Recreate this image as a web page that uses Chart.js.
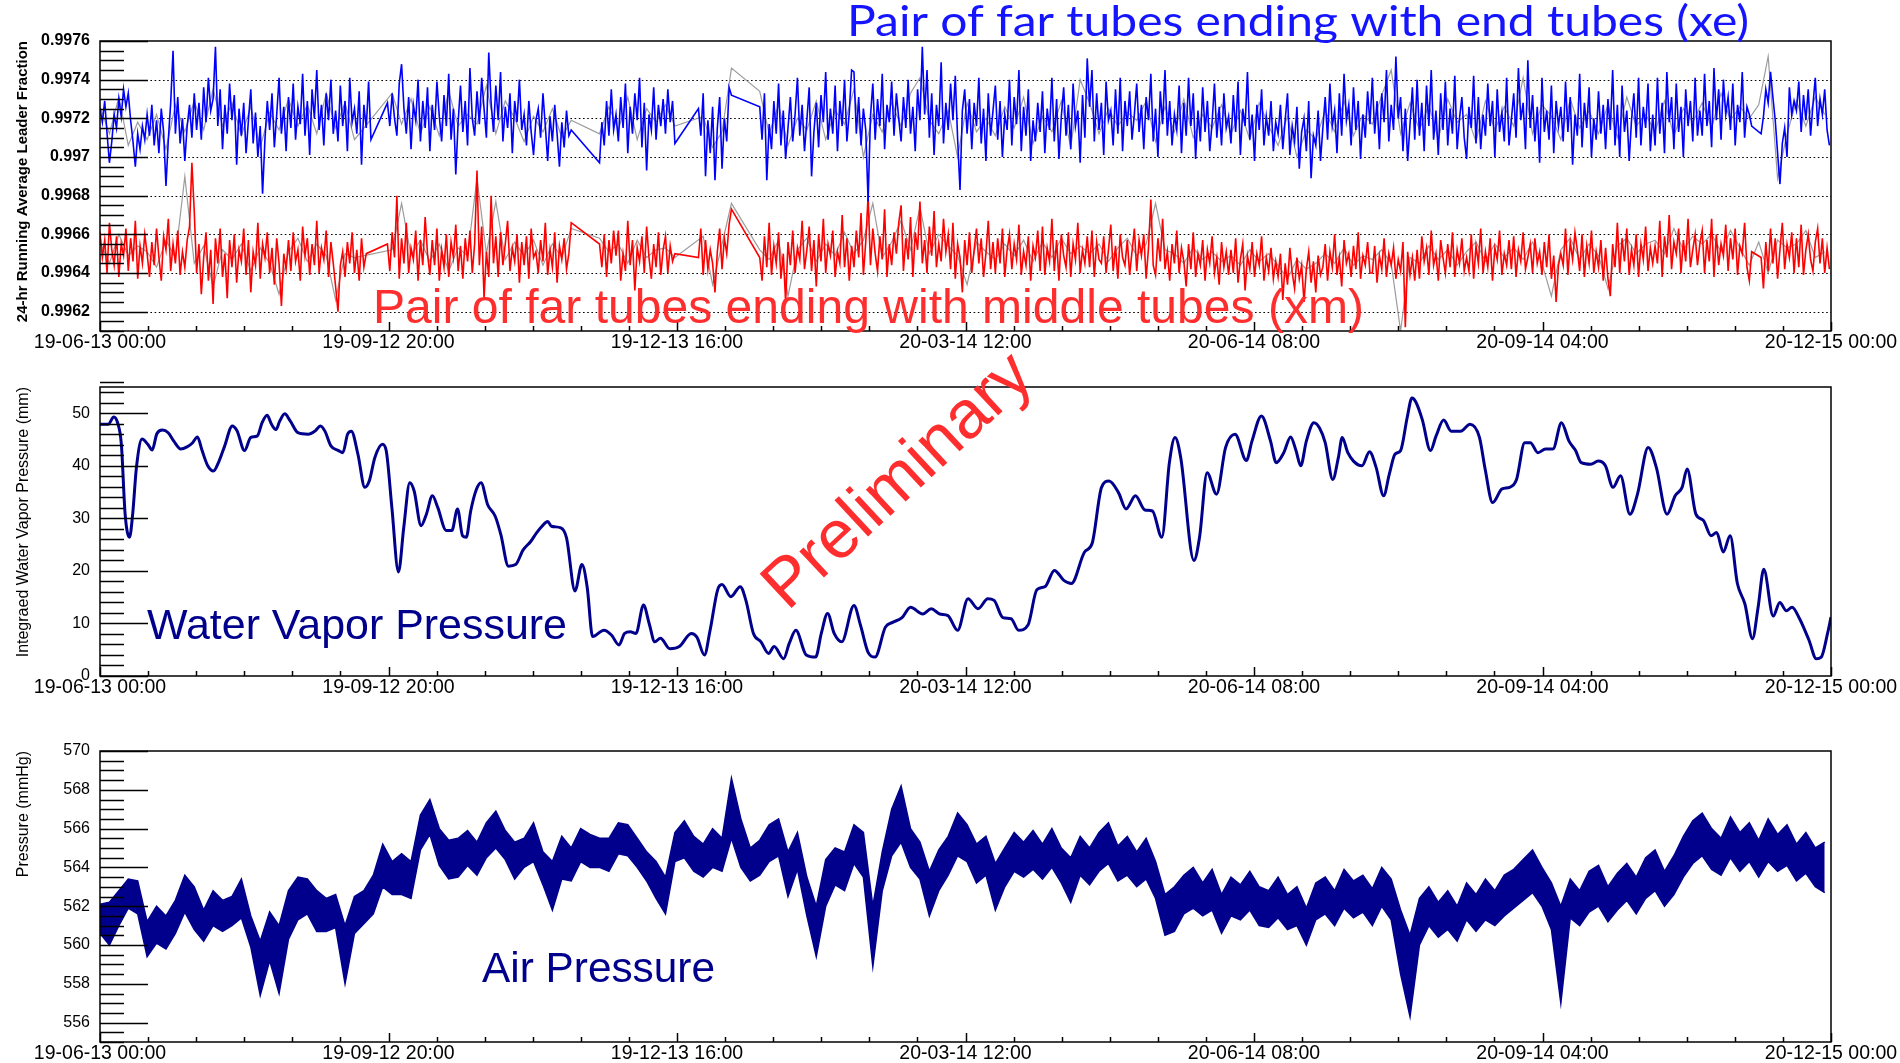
<!DOCTYPE html>
<html>
<head>
<meta charset="utf-8">
<script src="https://cdn.jsdelivr.net/npm/chart.js@4.4.1/dist/chart.umd.min.js"></script>
<style>
  html, body { margin: 0; padding: 0; background: #fff; overflow: hidden; }
  #wrap { position: relative; width: 1900px; height: 1063px; background: #fff; }
  #wrap canvas { position: absolute; left: 0; top: 0; }
</style>
</head>
<body>
<div id="wrap">
  <canvas id="leaderChart" width="1900" height="1063"></canvas>
  <canvas id="vaporChart" width="1900" height="1063"></canvas>
  <canvas id="airChart" width="1900" height="1063"></canvas>
</div>
<script>
// ---- time axis (days since 19-06-13 00:00) ----
const timeTickDays = [0, 91.8333, 183.6667, 275.5, 367.3333, 459.1667, 551];
const timeTickLabels = ['19-06-13 00:00', '19-09-12 20:00', '19-12-13 16:00', '20-03-14 12:00',
                        '20-06-14 08:00', '20-09-14 04:00', '20-12-15 00:00'];

// ---- 24-hr running average leader fraction, one sample every 0.75 days (null = no data) ----
const LEADER_STEP = 0.75;
const xeFraction = [
.99725,.99718,.99729,.99712,.99697,.99708,.99722,.99715,.99730,.99721,.99735,.99726,.99733,.99719,.99708,.99695,.99712,.99704,.99716,.99709,
.99722,.99711,.99727,.99706,.99719,.99702,.99725,.99713,.99685,.99709,.99728,.99755,.99712,.99731,.99707,.99720,.99698,.99716,.99727,.99710,
.99733,.99714,.99728,.99709,.99736,.99718,.99741,.99724,.99730,.99757,.99716,.99735,.99704,.99727,.99712,.99738,.99719,.99732,.99696,.99725,
.99711,.99728,.99702,.99719,.99735,.99707,.99723,.99700,.99716,.99681,.99709,.99729,.99714,.99733,.99705,.99722,.99741,.99712,.99726,.99703,
.99731,.99715,.99738,.99709,.99726,.99717,.99743,.99711,.99729,.99701,.99735,.99720,.99745,.99714,.99727,.99706,.99733,.99719,.99740,.99712,
.99724,.99708,.99737,.99716,.99729,.99703,.99741,.99718,.99725,.99712,.99734,.99696,.99727,.99715,.99739,.99709,null,null,null,null,
null,null,.99728,.99716,.99733,.99720,.99711,.99738,.99748,.99725,.99712,.99731,.99704,.99727,.99719,.99740,.99708,.99729,.99715,.99736,
.99703,.99727,.99714,.99739,.99721,.99708,.99732,.99716,.99743,.99709,.99725,.99691,.99718,.99737,.99713,.99729,.99706,.99746,.99720,.99711,
.99734,.99717,.99741,.99725,.99710,.99754,.99728,.99713,.99737,.99719,.99744,.99708,.99726,.99715,.99733,.99702,.99729,.99718,.99740,.99714,
.99722,.99706,.99729,.99713,.99701,.99719,.99725,.99710,.99733,.99716,.99698,.99721,.99708,.99727,.99712,.99695,.99718,.99705,.99724,.99711,
.99714,null,null,null,null,null,null,null,null,null,null,null,.99697,.99718,.99706,.99729,.99711,.99735,.99714,.99722,
.99708,.99731,.99715,.99738,.99702,.99726,.99712,.99733,.99719,.99741,.99705,.99728,.99693,.99722,.99714,.99736,.99709,.99727,.99716,.99730,
.99712,.99735,.99718,.99729,.99707,null,null,null,null,null,null,null,null,null,.99725,.99711,.99733,.99690,.99719,.99702,
.99726,.99688,.99715,.99731,.99694,.99720,.99708,.99736,.99732,null,null,null,null,null,null,null,null,null,null,null,
.99726,.99709,.99733,.99688,.99717,.99704,.99729,.99712,.99738,.99706,.99724,.99699,.99715,.99731,.99708,.99722,.99741,.99711,.99727,.99703,
.99719,.99736,.99690,.99713,.99728,.99705,.99732,.99718,.99744,.99709,.99725,.99712,.99737,.99703,.99729,.99716,.99740,.99708,.99723,.99745,
.99744,.99712,.99731,.99706,.99725,.99714,.99677,.99721,.99738,.99709,.99730,.99716,.99743,.99704,.99727,.99718,.99739,.99711,.99733,.99720,
.99708,.99731,.99715,.99740,.99712,.99726,.99703,.99735,.99719,.99757,.99722,.99745,.99710,.99733,.99701,.99727,.99716,.99749,.99707,.99728,
.99714,.99738,.99719,.99742,.99709,.99683,.99724,.99735,.99712,.99730,.99704,.99728,.99716,.99741,.99707,.99725,.99698,.99733,.99711,.99724,
.99737,.99709,.99729,.99700,.99722,.99714,.99740,.99706,.99731,.99717,.99745,.99703,.99726,.99711,.99735,.99698,.99719,.99708,.99728,.99713,
.99734,.99702,.99725,.99714,.99741,.99708,.99730,.99699,.99721,.99736,.99711,.99727,.99704,.99738,.99716,.99724,.99697,.99732,.99710,.99751,
.99726,.99745,.99708,.99733,.99714,.99728,.99701,.99739,.99719,.99724,.99706,.99735,.99712,.99741,.99703,.99729,.99716,.99734,.99709,.99722,
.99738,.99713,.99727,.99704,.99731,.99719,.99743,.99708,.99725,.99700,.99734,.99717,.99745,.99711,.99729,.99706,.99722,.99714,.99737,.99702,
.99728,.99711,.99741,.99716,.99733,.99699,.99724,.99708,.99736,.99713,.99729,.99703,.99718,.99738,.99710,.99726,.99706,.99733,.99715,.99721,
.99707,.99732,.99713,.99739,.99701,.99725,.99716,.99744,.99709,.99722,.99698,.99727,.99714,.99735,.99706,.99721,.99711,.99729,.99703,.99718,
.99712,.99727,.99704,.99719,.99733,.99701,.99716,.99708,.99726,.99694,.99713,.99720,.99703,.99729,.99689,.99711,.99706,.99724,.99698,.99715,
.99731,.99709,.99738,.99716,.99724,.99702,.99733,.99711,.99743,.99719,.99727,.99706,.99736,.99714,.99729,.99699,.99722,.99710,.99734,.99717,
.99741,.99712,.99729,.99704,.99733,.99718,.99745,.99708,.99727,.99714,.99752,.99720,.99731,.99703,.99725,.99698,.99717,.99736,.99709,.99740,
.99711,.99728,.99703,.99737,.99716,.99745,.99709,.99724,.99701,.99733,.99714,.99739,.99706,.99725,.99712,.99742,.99704,.99720,.99731,.99710,
.99699,.99726,.99715,.99742,.99707,.99731,.99704,.99722,.99711,.99738,.99716,.99729,.99700,.99735,.99713,.99723,.99708,.99741,.99706,.99719,
.99733,.99710,.99746,.99719,.99728,.99704,.99750,.99715,.99732,.99708,.99726,.99697,.99741,.99713,.99724,.99709,.99737,.99702,.99729,.99716,
.99726,.99708,.99739,.99713,.99731,.99696,.99722,.99711,.99743,.99705,.99728,.99715,.99736,.99700,.99720,.99709,.99734,.99712,.99727,.99704,
.99730,.99714,.99745,.99706,.99727,.99700,.99737,.99713,.99724,.99698,.99719,.99733,.99710,.99741,.99706,.99726,.99715,.99738,.99703,.99722,
.99706,.99741,.99712,.99728,.99702,.99744,.99718,.99731,.99704,.99738,.99713,.99726,.99700,.99735,.99716,.99729,.99708,.99741,.99711,.99724,
.99711,.99743,.99716,.99729,.99705,.99746,.99719,.99735,.99709,.99740,.99722,.99731,.99714,.99738,.99706,.99727,.99718,.99744,.99710,.99726,
.99722,.99716,null,null,null,.99712,.99721,.99735,.99728,.99744,.99731,.99719,.99702,.99686,.99707,.99715,.99700,.99736,.99722,.99729,
.99724,.99739,.99713,.99732,.99719,.99735,.99711,.99727,.99741,.99716,.99730,.99722,.99735,.99714,.99706
];
const xmFraction = [
.99661,.99648,.99657,.99640,.99666,.99652,.99644,.99659,.99638,.99655,.99649,.99663,.99641,.99658,.99646,.99667,.99637,.99654,.99645,.99660,
.99650,.99638,.99656,.99644,.99663,.99648,.99636,.99659,.99652,.99668,.99641,.99655,.99645,.99662,.99639,.99651,.99643,.99657,.99664,.99697,
.99672,.99640,.99655,.99629,.99648,.99661,.99636,.99652,.99624,.99658,.99645,.99663,.99638,.99650,.99627,.99657,.99643,.99660,.99635,.99652,
.99646,.99663,.99639,.99657,.99630,.99651,.99644,.99666,.99637,.99655,.99648,.99661,.99640,.99653,.99634,.99658,.99645,.99623,.99650,.99642,
.99657,.99641,.99661,.99646,.99652,.99636,.99664,.99649,.99658,.99639,.99655,.99644,.99667,.99640,.99653,.99647,.99662,.99638,.99656,.99645,
.99633,.99620,.99644,.99651,.99638,.99656,.99645,.99661,.99640,.99652,.99636,.99658,.99643,.99650,null,null,null,null,null,null,
null,null,.99655,.99641,.99661,.99648,.99680,.99637,.99658,.99645,.99666,.99640,.99653,.99647,.99662,.99636,.99657,.99644,.99669,.99650,
.99639,.99657,.99644,.99663,.99636,.99652,.99643,.99660,.99638,.99656,.99648,.99665,.99641,.99654,.99637,.99658,.99646,.99662,.99640,.99655,
.99693,.99644,.99664,.99627,.99651,.99638,.99680,.99645,.99659,.99638,.99661,.99644,.99655,.99667,.99641,.99653,.99646,.99660,.99635,.99656,
.99644,.99659,.99637,.99663,.99648,.99651,.99640,.99657,.99646,.99666,.99639,.99652,.99643,.99661,.99635,.99654,.99647,.99658,.99642,.99650,
.99666,null,null,null,null,null,null,null,null,null,null,null,.99655,.99643,.99660,.99638,.99657,.99645,.99662,.99649,
.99662,.99636,.99650,.99641,.99667,.99644,.99657,.99631,.99653,.99646,.99659,.99640,.99664,.99648,.99637,.99655,.99643,.99661,.99639,.99652,
.99659,.99640,.99654,.99646,.99650,null,null,null,null,null,null,null,null,null,.99648,.99663,.99639,.99657,.99642,.99652,
.99645,.99630,.99651,.99663,.99642,.99658,.99650,.99665,.99673,null,null,null,null,null,null,null,null,null,null,null,
.99648,.99636,.99659,.99643,.99666,.99639,.99654,.99645,.99661,.99637,.99650,.99625,.99656,.99644,.99662,.99640,.99653,.99647,.99667,.99642,
.99652,.99664,.99641,.99657,.99633,.99660,.99646,.99668,.99640,.99655,.99649,.99662,.99638,.99651,.99645,.99670,.99643,.99658,.99636,.99654,
.99643,.99662,.99648,.99671,.99639,.99656,.99680,.99644,.99663,.99650,.99641,.99659,.99647,.99673,.99638,.99655,.99644,.99661,.99650,.99666,
.99675,.99641,.99658,.99647,.99669,.99638,.99661,.99652,.99677,.99645,.99657,.99640,.99664,.99649,.99672,.99643,.99655,.99646,.99668,.99651,
.99660,.99642,.99666,.99637,.99655,.99648,.99630,.99657,.99644,.99661,.99640,.99652,.99663,.99645,.99658,.99638,.99650,.99667,.99642,.99656,
.99640,.99658,.99645,.99663,.99638,.99652,.99660,.99642,.99655,.99647,.99665,.99639,.99651,.99644,.99659,.99636,.99654,.99648,.99662,.99641,
.99664,.99639,.99653,.99646,.99668,.99641,.99657,.99636,.99660,.99649,.99643,.99661,.99638,.99655,.99647,.99666,.99640,.99652,.99645,.99659,
.99643,.99662,.99638,.99656,.99647,.99645,.99659,.99640,.99652,.99665,.99641,.99654,.99637,.99660,.99648,.99644,.99657,.99639,.99651,.99663,
.99641,.99657,.99649,.99660,.99637,.99653,.99678,.99644,.99639,.99658,.99646,.99668,.99642,.99651,.99636,.99655,.99645,.99662,.99640,.99653,
.99646,.99633,.99655,.99642,.99661,.99638,.99650,.99644,.99657,.99636,.99652,.99645,.99659,.99640,.99648,.99634,.99656,.99643,.99651,.99639,
.99652,.99640,.99658,.99635,.99647,.99655,.99631,.99649,.99642,.99656,.99638,.99650,.99644,.99659,.99636,.99648,.99641,.99653,.99637,.99646,
.99638,.99650,.99626,.99645,.99634,.99653,.99640,.99632,.99648,.99637,.99644,.99625,.99642,.99651,.99635,.99646,.99630,.99649,.99639,.99643,
.99655,.99636,.99651,.99643,.99660,.99639,.99648,.99633,.99657,.99645,.99650,.99638,.99654,.99642,.99661,.99637,.99649,.99644,.99656,.99640,
.99640,.99654,.99635,.99649,.99642,.99658,.99638,.99650,.99644,.99653,.99637,.99647,.99641,.99656,.99612,.99651,.99639,.99648,.99636,.99652,
.99637,.99659,.99646,.99653,.99639,.99662,.99644,.99650,.99636,.99657,.99648,.99640,.99655,.99643,.99661,.99638,.99652,.99645,.99658,.99641,
.99648,.99641,.99660,.99637,.99654,.99645,.99663,.99640,.99651,.99643,.99658,.99636,.99653,.99647,.99662,.99639,.99650,.99644,.99657,.99642,
.99659,.99638,.99652,.99646,.99661,.99642,.99648,.99655,.99640,.99658,.99645,.99651,.99639,.99656,.99643,.99660,.99637,.99649,.99625,.99644,
.99650,.99644,.99663,.99639,.99656,.99647,.99661,.99652,.99641,.99660,.99638,.99654,.99645,.99662,.99640,.99651,.99643,.99657,.99636,.99653,
.99637,.99628,.99655,.99643,.99666,.99640,.99658,.99646,.99663,.99639,.99652,.99644,.99660,.99638,.99655,.99647,.99664,.99641,.99653,.99645,
.99654,.99645,.99667,.99638,.99659,.99648,.99670,.99642,.99656,.99650,.99663,.99640,.99657,.99646,.99668,.99643,.99652,.99660,.99644,.99655,
.99662,.99640,.99657,.99646,.99668,.99638,.99660,.99644,.99655,.99649,.99665,.99641,.99658,.99647,.99663,.99639,.99654,.99650,.99666,.99643,
.99636,.99651,null,null,null,.99648,.99632,.99656,.99641,.99663,.99645,.99658,.99637,.99652,.99666,.99642,.99655,.99648,.99661,.99640,
.99658,.99643,.99665,.99639,.99652,.99660,.99647,.99641,.99656,.99663,.99645,.99658,.99640,.99653,.99642
];

// ---- grey companion traces, one sample every 3 days ----
const ALT_STEP = 3;
const xeFractionAlt = [
.99726,.99712,.99731,.99706,.99718, .99709,.99722,.99704,.99727,.99713, .99729,.99714,.99735,.99716,.99728,
.99711,.99726,.99705,.99723,.99714, .99730,.99716,.99727,.99712,.99733, .99715,.99728,.99709,null,null,
null,.99733,.99717,.99730,.99712, .99726,.99711,.99734,.99716,.99722, .99717,.99737,.99712,.99729,.99720,
.99708,.99721,.99713,.99725,.99710, .99719,null,null,.99712,.99726, .99714,.99731,.99709,.99725,.99718,
.99727,.99716,null,null,.99721, .99705,.99713,.99746,null,null, .99734,.99712,.99727,.99706,.99720,
.99714,.99729,.99709,.99724,.99717, .99735,.99700,.99722,.99713,.99728, .99716,.99733,.99741,.99719,.99712,
.99724,.99700,.99728,.99713,.99720, .99711,.99726,.99715,.99731,.99707, .99721,.99713,.99729,.99705,.99740,
.99728,.99712,.99725,.99716,.99723, .99719,.99729,.99708,.99726,.99713, .99730,.99710,.99722,.99715,.99727,
.99712,.99724,.99709,.99728,.99716, .99706,.99721,.99700,.99714,.99709, .99724,.99713,.99729,.99711,.99722,
.99717,.99732,.99745,.99712,.99728, .99714,.99727,.99709,.99730,.99718, .99722,.99708,.99729,.99714,.99726,
.99716,.99741,.99712,.99727,.99721, .99709,.99730,.99715,.99724,.99712, .99727,.99710,.99731,.99716,.99722,
.99713,.99729,.99711,.99725,.99718, .99728,.99715,.99733,.99719,.99726, .99720,.99727,.99752,.99689,.99712,
.99729,.99716,.99731,.99722
];
const xmFractionAlt = [
.99656,.99645,.99660,.99649,.99654, .99651,.99643,.99657,.99648,.99690, .99645,.99654,.99633,.99652,.99647,
.99655,.99641,.99653,.99645,.99629, .99651,.99658,.99646,.99655,.99649, .99626,.99650,.99648,null,null,
null,.99652,.99676,.99649,.99657, .99646,.99655,.99641,.99653,.99649, .99689,.99650,.99677,.99647,.99656,
.99649,.99657,.99644,.99655,.99648, .99663,null,null,.99658,.99651, .99655,.99645,.99657,.99648,.99652,
.99653,.99648,null,null,.99659, .99634,.99655,.99676,null,null, .99652,.99647,.99657,.99628,.99652,
.99658,.99646,.99655,.99649,.99661, .99650,.99657,.99676,.99648,.99656, .99667,.99652,.99674,.99650,.99660,
.99654,.99649,.99634,.99656,.99651, .99647,.99655,.99649,.99657,.99646, .99656,.99648,.99658,.99650,.99654,
.99650,.99655,.99646,.99653,.99658, .99649,.99655,.99676,.99652,.99650, .99645,.99653,.99647,.99651,.99646,
.99649,.99644,.99652,.99646,.99650, .99644,.99637,.99647,.99642,.99645, .99650,.99645,.99653,.99644,.99649,
.99647,.99652,.99645,.99610,.99648, .99645,.99654,.99647,.99652,.99644, .99651,.99656,.99646,.99655,.99648,
.99653,.99647,.99656,.99645,.99628, .99652,.99658,.99647,.99655,.99649, .99632,.99654,.99658,.99650,.99655,
.99657,.99650,.99663,.99652,.99659, .99655,.99660,.99651,.99662,.99653, .99644,.99656,.99640,.99657,.99653,
.99655,.99662,.99648,.99651
];

// ---- integrated water vapour pressure (mm) ----
const vaporDays = [
0,2.6,4.4,5.6,6.8,8.0,9.4,10.4,11.6,13.4,15.2,16.6,18.1,19.9,21.7,23.5,25.7,27.7,29.5,31.0,
32.5,34.3,36.1,37.9,39.7,42.1,43.6,46.0,48.0,50.1,51.6,53.2,54.6,56.0,57.2,58.8,60.6,63.0,66.3,68.4,
70.2,71.6,73.5,75.9,77.3,78.8,80.0,82.1,84.3,85.7,87.5,89.9,91.1,92.9,95.0,96.7,98.6,100.0,102.2,103.9,
105.8,107.5,110.2,112.0,113.8,115.4,116.6,118.0,119.8,121.3,123.4,125.8,127.6,130.0,132.3,134.7,137.1,138.9,140.7,142.5,
143.7,146.7,148.5,151.2,153.4,155.1,156.8,160.4,162.8,165.2,167.0,168.8,170.6,173.0,174.8,176.6,178.4,181.4,184.4,188.2,
190.0,192.4,194.2,196.6,198.0,200.8,203.8,205.6,208.0,210.4,212.8,214.6,217.6,219.4,221.5,224.8,227.8,229.6,231.6,233.7,
236.1,240.0,242.1,244.5,246.7,250.0,252.3,255.3,258.0,261.9,264.6,267.3,269.9,273.0,276.3,279.5,282.6,284.6,287.4,290.0,
292.4,295.4,298.2,300.8,303.8,306.8,309.2,313.4,315.8,318.8,321.2,324.2,326.6,329.6,332.6,335.0,338.0,340.4,342.2,344.0,
348.2,350.0,352.4,355.4,358.3,361.3,364.9,366.7,369.7,372.6,374.4,376.8,379.0,380.7,382.2,384.0,386.4,388.2,390.0,392.4,
394.2,395.4,397.2,399.0,401.7,404.1,406.2,408.6,410.4,412.2,414.0,416.1,417.6,418.8,420.9,423.5,425.3,427.7,430.1,433.1,
436.1,439.1,440.9,443.3,446.3,448.7,450.9,453.5,455.3,457.7,460.1,462.5,465.2,467.6,469.7,471.5,474.5,476.9,479.2,481.6,
484.0,487.0,489.4,492.8,495.4,498.8,501.4,503.6,505.2,508.0,510.4,512.8,514.6,516.7,518.9,521.2,523.6,526.0,527.8,529.6,
532.6,534.7,536.8,538.6,541.0,544.0,546.3,547.9,549.9,551
];
const vaporMm = [
47.9,47.9,49.3,48.2,44.1,30.8,26.4,30.8,39.7,45.1,44.1,43.0,46.1,46.8,46.3,44.7,43.2,43.6,44.4,45.5,
42.9,40.0,39.0,40.9,43.8,47.6,46.7,42.9,45.4,45.7,48.2,49.6,47.9,46.9,48.5,49.9,48.5,46.3,46.0,46.6,
47.6,46.6,43.8,42.9,42.5,46.0,46.6,42.2,35.9,37.1,41.6,44.1,42.9,32.1,19.8,28.3,36.8,35.2,28.6,30.8,
34.3,32.1,27.7,27.7,31.8,26.7,26.4,31.4,35.5,36.8,32.6,30.4,26.9,20.9,21.2,24.0,25.6,27.2,28.5,29.4,
28.5,28.2,26.3,16.2,21.2,16.8,7.5,8.7,7.8,5.9,8.1,8.4,8.1,13.5,10.0,6.5,7.2,5.2,5.6,8.1,
7.4,4.0,8.7,16.4,17.4,15.1,17.0,14.4,8.1,6.5,4.3,5.6,3.3,6.2,8.7,4.0,3.6,8.1,11.9,8.1,
6.5,13.4,9.6,4.5,3.6,9.3,10.2,11.1,13.1,11.8,12.8,11.8,11.5,8.7,14.7,12.8,14.7,14.4,11.1,10.9,
8.7,9.7,16.4,17.0,20.1,18.2,17.6,23.6,25.2,35.9,37.1,34.9,31.8,34.3,31.6,31.4,26.4,40.6,45.4,41.6,
22.0,26.4,38.7,34.6,43.5,46.0,41.0,44.7,49.5,44.7,40.6,42.5,45.5,42.9,40.0,44.7,48.2,47.2,44.4,37.4,
41.6,45.4,42.5,40.9,40.0,42.7,39.7,34.3,38.4,42.2,42.9,49.2,52.9,52.2,48.8,42.9,45.7,48.7,46.6,46.6,
47.9,45.4,39.4,33.0,35.6,35.9,37.4,44.4,44.4,42.5,43.2,43.2,48.2,44.7,42.9,40.6,40.3,40.9,40.0,35.9,
38.1,30.8,34.6,43.5,39.7,30.8,34.3,35.9,39.4,30.8,29.6,26.7,27.3,23.6,26.7,17.6,13.7,7.1,13.1,20.3,
11.4,14.0,12.4,13.1,10.9,6.8,3.3,3.6,8.1,11.2
];

// ---- air pressure (mmHg): high / low of each 3-day window ----
const AIR_STEP = 3;
const airHigh = [
562.1,562.2,562.8,563.4,563.3,561.2,562.0,561.5,562.3,563.6,
563.0,561.8,562.8,562.3,562.5,563.4,561.5,560.2,561.7,561.0,
562.8,563.5,563.4,562.8,562.4,562.6,561.0,562.5,562.8,563.6,
565.2,564.3,564.7,564.3,566.7,567.5,566.0,565.4,565.5,565.9,
565.3,566.3,566.9,565.9,565.3,565.5,566.3,564.8,564.3,565.6,
565.0,566.0,565.7,565.5,565.5,566.3,566.2,565.5,564.8,564.3,
563.5,565.8,566.4,
565.6,565.2,566.0,565.5,568.6,566.5,565.0,565.4,566.2,566.5,
564.8,565.8,563.5,562.0,564.4,565.0,564.8,566.2,565.8,562.0,
564.8,567.0,568.2,566.0,565.3,563.8,564.9,565.6,566.8,566.2,
565.2,565.6,564.2,565.0,565.8,565.3,565.9,565.2,566.0,565.0,
564.5,565.6,565.0,565.8,566.3,565.1,565.6,564.8,565.5,564.3,
562.6,563.0,563.6,564.0,563.2,563.9,562.6,563.5,563.1,563.8,
563.0,562.8,563.5,562.6,563.0,561.9,563.2,563.5,562.8,563.9,
563.3,563.6,562.9,564.0,563.4,561.8,560.5,562.4,563.0,562.2,
562.8,562.0,563.2,562.6,563.4,562.8,563.6,563.9,564.4,564.9,
564.0,563.2,562.0,563.4,562.8,563.8,564.1,563.0,563.7,564.2,
563.5,564.5,564.9,563.8,564.6,565.6,566.4,566.8,566.0,565.5,
566.6,565.8,566.3,565.4,566.5,565.7,566.2,565.2,565.8,565.0,
565.3
];
const airLow = [
560.6,560.0,561.0,561.9,561.6,559.4,560.1,559.8,560.6,561.7,
560.8,560.2,561.0,560.7,561.0,561.4,559.9,557.4,559.2,557.5,
560.3,561.3,561.6,560.7,560.7,560.9,558.0,560.6,561.1,561.6,
563.0,562.6,562.6,562.4,564.9,565.7,564.1,563.4,563.5,564.1,
563.6,564.5,565.0,564.4,563.4,564.0,564.3,563.1,561.8,563.4,
563.3,564.3,564.0,564.0,563.8,564.7,564.6,564.0,563.3,562.4,
561.6,564.3,564.5,
563.8,563.5,564.0,563.8,565.5,564.0,563.3,563.6,564.3,564.6,
562.5,563.9,561.5,559.4,562.0,563.1,562.8,564.2,563.5,558.9,
562.8,564.6,565.3,564.0,563.4,561.5,562.8,563.6,564.6,564.3,
563.2,563.6,561.8,563.0,563.8,563.5,563.9,563.4,564.0,563.2,
562.2,563.6,563.1,563.8,564.2,563.3,563.6,563.0,563.4,562.4,
560.5,560.7,561.6,561.9,561.5,561.8,560.6,561.5,561.3,561.8,
561.0,560.9,561.4,560.8,561.0,560.0,561.3,561.6,561.0,561.9,
561.4,561.7,561.0,562.0,561.3,558.5,556.3,560.0,561.0,560.4,
560.8,560.2,561.3,560.7,561.3,561.0,561.5,561.9,562.3,562.7,
562.0,560.8,557.0,561.4,561.0,561.7,562.0,561.2,561.8,562.3,
561.6,562.4,562.8,562.0,562.6,563.5,564.2,564.6,563.9,563.6,
564.5,563.8,564.3,563.5,564.3,563.8,564.1,563.3,563.7,563.0,
562.7
];

// ---- axis ticks ----
const leaderTicks = [0.9962, 0.9964, 0.9966, 0.9968, 0.997, 0.9972, 0.9974, 0.9976];
const vaporTicks = [0, 10, 20, 30, 40, 50];
const airTicks = [556, 558, 560, 562, 564, 566, 568, 570];

// ---- colours ----
const NAVY = '#00008c';
const BLUE = '#0000ff';
const RED = '#ff0000';
const GREY = '#9c9c9c';
const NOTE_RED = '#ff2e2e';

Chart.defaults.font.family = "'Liberation Sans', Arial, sans-serif";

const stepSeries = (vals, step) => vals.map((v, i) => ({ x: i * step, y: v }));
const pairSeries = (xs, ys) => xs.map((d, i) => ({ x: d, y: ys[i] }));

function drawNote(ctx, t) {
  ctx.save();
  ctx.font = `${t.weight || 'normal'} ${t.size}px ${t.family || "'Liberation Sans', Arial"}`;
  ctx.fillStyle = t.color;
  ctx.textAlign = t.align || 'left';
  ctx.textBaseline = t.baseline || 'alphabetic';
  const natural = ctx.measureText(t.text).width;
  ctx.translate(t.x, t.y);
  if (t.rotate) ctx.rotate(t.rotate * Math.PI / 180);
  if (t.width) ctx.scale(t.width / natural, 1);
  ctx.fillText(t.text, 0, 0);
  ctx.restore();
}

// frame, inward ticks and optional dotted grid, placed with the chart's own scales
function framePlugin(f) {
  return {
    id: 'frameTicks',
    beforeDatasetsDraw(chart) {
      if (!f.grid) return;
      const { ctx, chartArea: a } = chart;
      const y = chart.scales.y;
      ctx.save();
      ctx.strokeStyle = '#000';
      ctx.lineWidth = 1;
      ctx.setLineDash([1.6, 2.6]);
      f.grid.forEach(v => {
        const py = Math.round(y.getPixelForValue(v)) + 0.5;
        ctx.beginPath(); ctx.moveTo(a.left, py); ctx.lineTo(a.right, py); ctx.stroke();
      });
      ctx.restore();
    },
    afterDatasetsDraw(chart) {
      const { ctx, chartArea: a } = chart;
      const x = chart.scales.x, y = chart.scales.y;
      ctx.save();
      ctx.strokeStyle = '#000';
      ctx.lineWidth = 1.5;
      const ny = Math.round((y.max - y.min) / f.yMinor);
      for (let k = 0; k <= ny; k++) {
        const v = y.min + k * f.yMinor;
        const major = f.yTicks.some(t => Math.abs(t - v) < f.yMinor / 10);
        const py = Math.round(y.getPixelForValue(v)) + 0.5;
        ctx.beginPath(); ctx.moveTo(a.left, py); ctx.lineTo(a.left + (major ? 48 : 24), py); ctx.stroke();
      }
      const nx = 36;
      for (let k = 0; k <= nx; k++) {
        const v = k * x.max / nx;
        const px = Math.round(x.getPixelForValue(v)) + 0.5;
        ctx.beginPath(); ctx.moveTo(px, a.bottom); ctx.lineTo(px, a.bottom - (k % 6 === 0 ? 9 : 5)); ctx.stroke();
      }
      ctx.strokeRect(a.left, a.top, a.right - a.left, a.bottom - a.top);
      ctx.restore();
    }
  };
}

function notesPlugin(items) {
  return { id: 'notes', afterDraw(chart) { items.forEach(t => drawNote(chart.ctx, t)); } };
}

function makePanel(id, p) {
  return new Chart(document.getElementById(id), {
    type: 'line',
    data: { datasets: p.datasets },
    options: {
      responsive: false,
      animation: false,
      devicePixelRatio: 1,
      events: [],
      layout: { padding: { left: 0, right: 69, top: p.top, bottom: 1063 - p.bottom - 20 } },
      elements: { point: { radius: 0 }, line: { tension: 0 } },
      plugins: { legend: { display: false }, tooltip: { enabled: false } },
      scales: {
        x: {
          type: 'linear', position: 'bottom', min: 0, max: 551,
          afterBuildTicks: s => { s.ticks = timeTickDays.map(v => ({ value: v })); },
          afterFit: s => { s.height = 20; },
          grid: { display: false, drawTicks: false },
          border: { display: false },
          ticks: {
            autoSkip: false, maxRotation: 0, minRotation: 0, padding: 0, color: '#000',
            font: { size: 19.5 },
            callback: (v, i) => timeTickLabels[i]
          }
        },
        y: {
          type: 'linear', position: 'left', min: p.yMin, max: p.yMax,
          afterBuildTicks: s => { s.ticks = p.yTicks.map(v => ({ value: v })); },
          afterFit: s => { s.width = 100; },
          grid: { display: false, drawTicks: false },
          border: { display: false },
          ticks: { padding: 10, color: '#000', font: p.tickFont, callback: v => String(v) },
          title: {
            display: true, text: p.yTitle, align: 'end', color: '#000',
            font: p.titleFont, padding: { top: 14, bottom: 0 }
          }
        }
      }
    },
    plugins: [framePlugin({ grid: p.grid, yTicks: p.yTicks, yMinor: p.yMinor }), notesPlugin(p.notes)]
  });
}

// top: leader fraction for the two tube pairs
makePanel('leaderChart', {
  top: 41, bottom: 331, yMin: 0.9961, yMax: 0.9976, yMinor: 0.00005,
  yTicks: leaderTicks, grid: leaderTicks.slice(0, 7),
  tickFont: { size: 16, weight: 'bold' }, titleFont: { size: 15, weight: 'bold' },
  yTitle: '24-hr Running Average Leader Fraction',
  datasets: [
    { data: stepSeries(xeFraction, LEADER_STEP), borderColor: BLUE, borderWidth: 1.6, spanGaps: true },
    { data: stepSeries(xmFraction, LEADER_STEP), borderColor: RED, borderWidth: 1.6, spanGaps: true },
    { data: stepSeries(xeFractionAlt, ALT_STEP), borderColor: GREY, borderWidth: 1.2, spanGaps: true },
    { data: stepSeries(xmFractionAlt, ALT_STEP), borderColor: GREY, borderWidth: 1.2, spanGaps: true }
  ],
  notes: [
    { text: 'Pair of far tubes ending with end tubes (xe)', x: 847, y: 36, size: 42,
      family: "Lato, 'Open Sans', sans-serif", color: '#1414ff', width: 902 },
    { text: 'Pair of far tubes ending with middle tubes (xm)', x: 373, y: 323, size: 48,
      color: NOTE_RED, width: 991 }
  ]
});

// middle: integrated water vapour pressure
makePanel('vaporChart', {
  top: 387, bottom: 676, yMin: 0, yMax: 55, yMinor: 2,
  yTicks: vaporTicks, grid: null,
  tickFont: { size: 16 }, titleFont: { size: 16 },
  yTitle: 'Integraed Water Vapor Pressure (mm)',
  datasets: [
    { data: pairSeries(vaporDays, vaporMm), borderColor: NAVY, borderWidth: 3,
      cubicInterpolationMode: 'monotone' }
  ],
  notes: [
    { text: 'Water Vapor Pressure', x: 147, y: 639, size: 42, color: NAVY, width: 420 },
    { text: 'Preliminary', x: 899, y: 482, size: 68, color: NOTE_RED, rotate: -43,
      align: 'center', baseline: 'middle' }
  ]
});

// bottom: air pressure band
makePanel('airChart', {
  top: 751, bottom: 1042, yMin: 555, yMax: 570, yMinor: 0.5,
  yTicks: airTicks, grid: null,
  tickFont: { size: 16 }, titleFont: { size: 16 },
  yTitle: 'Pressure (mmHg)',
  datasets: [
    { data: stepSeries(airHigh, AIR_STEP), borderColor: NAVY, borderWidth: 1.5 },
    { data: stepSeries(airLow, AIR_STEP), borderColor: NAVY, borderWidth: 1.5,
      fill: '-1', backgroundColor: NAVY }
  ],
  notes: [
    { text: 'Air Pressure', x: 482, y: 982, size: 42, color: NAVY, width: 233 }
  ]
});
</script>
</body>
</html>
